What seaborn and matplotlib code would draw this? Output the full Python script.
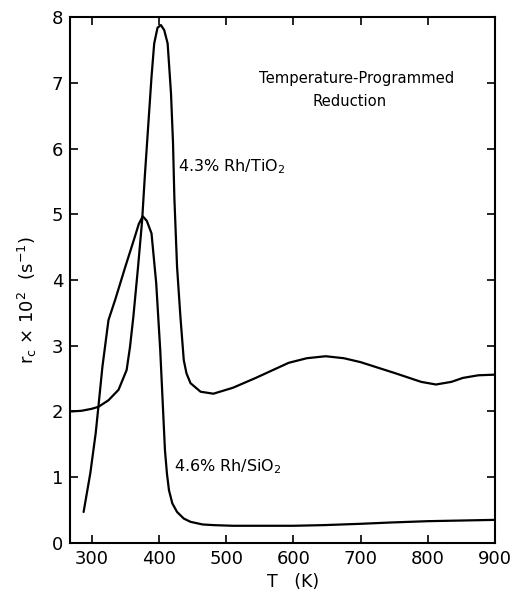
import pandas as pd
import seaborn as sns
import matplotlib.pyplot as plt

# 4.3% Rh/TiO2 curve
tio2_T = [270, 285, 300, 310, 325, 340, 352, 357, 362, 369, 375, 379, 384, 389,
          393, 398, 403, 408, 413, 418, 421, 423, 427, 432, 437, 441, 447, 462,
          481, 510, 544, 593, 620, 648, 675, 700, 752, 790, 812, 835, 852, 875, 900]
tio2_r = [2.00, 2.01, 2.04, 2.07, 2.17, 2.33, 2.63, 2.98, 3.44, 4.20, 4.90, 5.57, 6.33, 7.09,
          7.60, 7.84, 7.88, 7.80, 7.60, 6.84, 6.08, 5.25, 4.20, 3.44, 2.78, 2.58, 2.43, 2.30,
          2.27, 2.36, 2.51, 2.74, 2.81, 2.84, 2.81, 2.75, 2.58, 2.45, 2.41, 2.45, 2.51, 2.55, 2.56]

# 4.6% Rh/SiO2 curve
sio2_T = [288, 298, 306, 310, 316, 325, 335, 350, 364, 370, 376, 382, 389, 396,
          402, 405.5, 409, 412, 415, 420, 427, 437, 447, 465, 481, 510, 545, 600,
          645, 700, 745, 800, 850, 900]
sio2_r = [0.47, 1.06, 1.67, 2.07, 2.68, 3.39, 3.70, 4.20, 4.65, 4.85, 4.97, 4.90, 4.71, 3.95,
          2.93, 2.17, 1.41, 1.05, 0.80, 0.60, 0.47, 0.37, 0.32, 0.28, 0.27, 0.26, 0.26, 0.26,
          0.27, 0.29, 0.31, 0.33, 0.34, 0.35]

x_ticks = [300, 400, 500, 600, 700, 800, 900]
y_ticks = [0, 1, 2, 3, 4, 5, 6, 7, 8]


def main():
    df = pd.concat([
        pd.DataFrame({'T': tio2_T, 'r': tio2_r, 'catalyst': '4.3% Rh/TiO2'}),
        pd.DataFrame({'T': sio2_T, 'r': sio2_r, 'catalyst': '4.6% Rh/SiO2'}),
    ])

    sns.set_style('ticks')
    plt.rcParams['font.family'] = ['DejaVu Sans']
    plt.rcParams['text.color'] = 'black'
    plt.rcParams['axes.labelcolor'] = 'black'

    fig = plt.figure(figsize=(5.12, 5.92), dpi=100)
    ax = fig.add_axes([0.137, 0.083, 0.830, 0.888])

    sns.lineplot(data=df, x='T', y='r', hue='catalyst', palette=['black', 'black'],
                 linewidth=1.6, legend=False, ax=ax)

    ax.set_xlim(268, 900)
    ax.set_ylim(0, 8)
    ax.set_xticks(x_ticks)
    ax.set_yticks(y_ticks)
    ax.tick_params(direction='in', top=True, right=True, length=6, width=1.2,
                   labelsize=13, colors='black', pad=5)
    for s in ax.spines.values():
        s.set_visible(True)
        s.set_linewidth(1.5)
        s.set_color('black')

    ax.set_xlabel('T   (K)', fontsize=12.5)
    ax.set_ylabel(r'r$_\mathregular{c}$ × 10$^\mathregular{2}$  (s$^\mathregular{-1}$)', fontsize=13)
    ax.xaxis.set_label_coords(0.525, -0.058)
    ax.yaxis.set_label_coords(-0.073, 0.462)

    # curve labels
    ax.text(428, 5.72, r'4.3% Rh/TiO$_\mathregular{2}$', fontsize=11.5, va='center', ha='left')
    ax.text(423, 1.16, r'4.6% Rh/SiO$_\mathregular{2}$', fontsize=11.5, va='center', ha='left')
    ax.text(694, 7.07, 'Temperature-Programmed', fontsize=10.6, va='center', ha='center')
    ax.text(683, 6.72, 'Reduction', fontsize=10.6, va='center', ha='center')

    fig.savefig('out.png', dpi=100)


if __name__ == '__main__':
    main()
